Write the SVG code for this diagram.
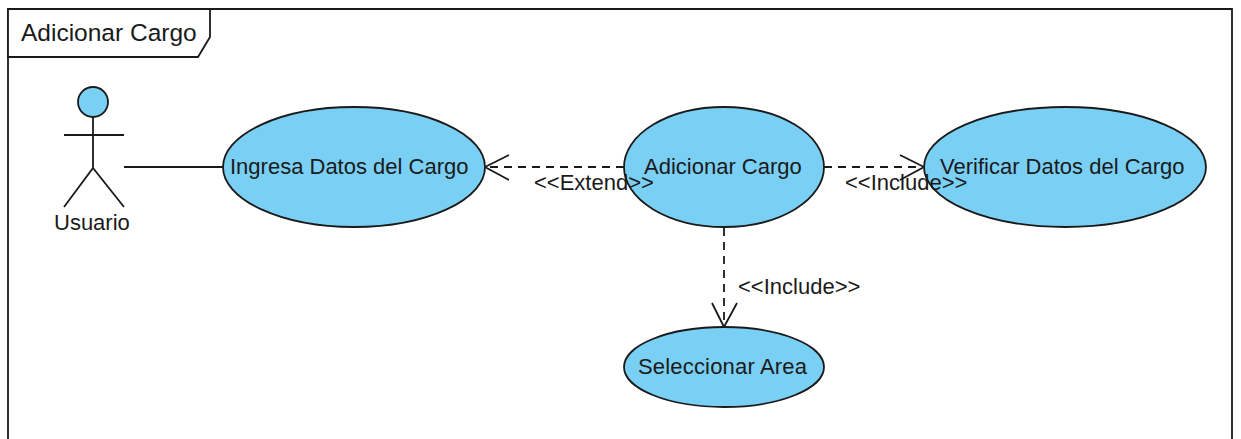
<svg xmlns="http://www.w3.org/2000/svg" width="1241" height="439" viewBox="0 0 1241 439">
<style>
.t{font-family:"Liberation Sans",Arial,sans-serif;font-size:22px;fill:#1a1a1a}
.u{fill:#7acff5;stroke:#1a1a1a;stroke-width:1.8}
.l{fill:none;stroke:#1a1a1a;stroke-width:1.8}
.d{stroke-dasharray:8 6}
</style>
<rect width="1241" height="439" fill="#fff"/>
<g id="frame"><path class="l" d="M8 439V9H1232V439"/><path d="M8 9H210V37L198 57H8Z" fill="#fff" stroke="#1a1a1a" stroke-width="1.8"/><text class="t" x="21" y="41" style="font-size:24.5px">Adicionar Cargo</text></g>
<g id="connectors">
<path class="l" d="M124 167H223"/>
<path class="l d" d="M624 167H485"/><path class="l" d="M509 155L485 167L509 180"/>
<path class="l d" d="M824 167H924"/><path class="l" d="M900 155L924 167L900 180"/>
<path class="l d" d="M724 228V327"/><path class="l" d="M712 303L724 327L737 303"/>
</g>
<g id="usuario"><circle class="u" cx="93" cy="102" r="15"/><path class="l" d="M93 117V168M64 135H124M64 207L93 168L124 207"/><text class="t" x="54" y="230">Usuario</text></g>
<g id="ingresa"><ellipse class="u" cx="354" cy="167" rx="131" ry="60"/><text class="t" x="230" y="174">Ingresa Datos del Cargo</text></g>
<g id="adicionar"><ellipse class="u" cx="724" cy="167" rx="100" ry="60"/><text class="t" x="644" y="174">Adicionar Cargo</text></g>
<g id="verificar"><ellipse class="u" cx="1065" cy="167" rx="141" ry="60"/><text class="t" x="940" y="174">Verificar Datos del Cargo</text></g>
<g id="seleccionar"><ellipse class="u" cx="724" cy="367" rx="100" ry="40"/><text class="t" x="638" y="374" textLength="169">Seleccionar Area</text></g>
<g id="labels"><text class="t" x="534" y="190">&lt;&lt;Extend&gt;&gt;</text><text class="t" x="845" y="190">&lt;&lt;Include&gt;&gt;</text><text class="t" x="738" y="294">&lt;&lt;Include&gt;&gt;</text></g>
</svg>
